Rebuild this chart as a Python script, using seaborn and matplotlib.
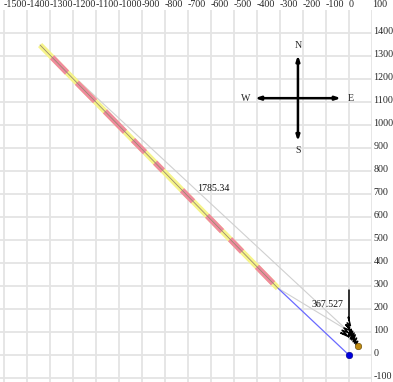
import matplotlib
matplotlib.use("Agg")
import matplotlib.pyplot as plt
import matplotlib.transforms as mtransforms
import seaborn as sns

# ---- data ----
x_ticks = list(range(-1500, 101, 100))
y_ticks = list(range(-100, 1401, 100))

# vertical section / build (blue)
blue_x = [0, -309]
blue_y = [0, 291]

# lateral (yellow)
lat_x = [-309, -1343]
lat_y = [291, 1348]

# highlighted (pink) intervals along lateral: (x0, y0, x1, y1)
pink_x0 = [-1291, -1183, -1061, -939, -843, -726, -617, -517, -400]
pink_y0 = [1295, 1184, 1060, 935, 837, 717, 606, 504, 384]
pink_x1 = [-1226, -1104, -974, -887, -809, -678, -552, -465, -330]
pink_y1 = [1228, 1104, 971, 882, 802, 668, 539, 450, 312]

# offset well (black trace)
blk_x = [0, 0, -3, 6, -8, 3, -14, 8, -22, -4, -30, -12, -36, -6, 10, -2, 16, 6,
         22, 12, 27, 18, 33, 24, 38, 30, 40]
blk_y = [283, 152, 165, 128, 140, 118, 132, 106, 118, 98, 108, 90, 96, 82, 112, 78,
         104, 70, 96, 66, 88, 58, 74, 52, 60, 46, 40]

# reference (gray) lines
ref_x = [-1343, -9, -309]
ref_y = [1348, 109, 291]
dist_labels = ["1785.34", "367.527"]
dist_lx = [-661, -161]
dist_ly = [726, 222]

# compass
comp_cx, comp_cy = -222, 1117
comp_len = 187
comp_lbl_off = 228
comp_labels = ["N", "S", "W", "E"]

# ---- figure ----
sns.set_style("white")
plt.rcParams["font.family"] = ["Liberation Serif", "DejaVu Serif"]
fs = 7.2

fig = plt.figure(figsize=(3.93, 3.82), dpi=100)
ax = fig.add_axes([0, 0, 372 / 393, 372 / 382])
ax.set_xlim(-1517.4, 100.0)
ax.set_ylim(-117.0, 1500.4)

ax.set_xticks(x_ticks)
ax.set_yticks(y_ticks)
ax.xaxis.tick_top()
ax.yaxis.tick_right()
ax.set_xticklabels([str(v) for v in x_ticks], ha="left", fontsize=fs)
ax.set_yticklabels([str(v) for v in y_ticks], fontsize=fs)
ax.tick_params(length=0, pad=1.0)
shift_up = mtransforms.ScaledTranslation(0, 2.2 / 100, fig.dpi_scale_trans)
for lbl in ax.get_yticklabels():
    lbl.set_transform(lbl.get_transform() + shift_up)
ax.grid(True, color="#e4e4e4", lw=1.3)
ax.set_axisbelow(True)
for s in ax.spines.values():
    s.set_visible(False)

# gray reference lines
sns.lineplot(x=[ref_x[0], ref_x[1]], y=[ref_y[0], ref_y[1]], ax=ax, sort=False,
             color="#d0d0d0", lw=0.8, estimator=None)
sns.lineplot(x=[ref_x[2], ref_x[1]], y=[ref_y[2], ref_y[1]], ax=ax, sort=False,
             color="#d0d0d0", lw=0.8, estimator=None)

# blue build
sns.lineplot(x=blue_x, y=blue_y, ax=ax, sort=False, color="#6a6aff", lw=0.9,
             estimator=None)

# lateral
sns.lineplot(x=lat_x, y=lat_y, ax=ax, sort=False, color="#f6f48a", lw=4.2,
             estimator=None, solid_capstyle="butt")
for a, b, c, d in zip(pink_x0, pink_y0, pink_x1, pink_y1):
    sns.lineplot(x=[a, c], y=[b, d], ax=ax, sort=False, color="#f08a9e", lw=4.2,
                 estimator=None, solid_capstyle="butt")
sns.lineplot(x=lat_x, y=lat_y, ax=ax, sort=False, color="#9a8a70", lw=0.6,
             estimator=None)

# black trace
sns.lineplot(x=blk_x, y=blk_y, ax=ax, sort=False, color="black", lw=1.1,
             estimator=None)

# dots
sns.scatterplot(x=[blue_x[0]], y=[blue_y[0]], ax=ax, color="#0000dd", s=22,
                edgecolor="#000080", linewidth=0.4, zorder=5)
sns.scatterplot(x=[blk_x[-1]], y=[blk_y[-1]], ax=ax, color="#c08a10", s=22,
                edgecolor="#5a4000", linewidth=0.4, zorder=5)

# distance labels
for t, lx, ly in zip(dist_labels, dist_lx, dist_ly):
    ax.text(lx, ly, t, ha="left", va="center", fontsize=fs, color="#111111")

# compass
dirs = [(0, 1), (0, -1), (-1, 0), (1, 0)]
for (dx, dy), lab in zip(dirs, comp_labels):
    ax.annotate("", xy=(comp_cx + dx * comp_len, comp_cy + dy * comp_len),
                xytext=(comp_cx, comp_cy),
                arrowprops=dict(arrowstyle="-|>,head_length=0.3,head_width=0.1",
                                color="black", lw=1.8, shrinkA=0, shrinkB=0))
    ax.text(comp_cx + dx * comp_lbl_off, comp_cy + dy * comp_lbl_off, lab,
            ha="center", va="center", fontsize=fs)

if ax.get_legend() is not None:
    ax.get_legend().remove()
ax.set_xlabel("")
ax.set_ylabel("")

fig.savefig("out.png", dpi=100)
